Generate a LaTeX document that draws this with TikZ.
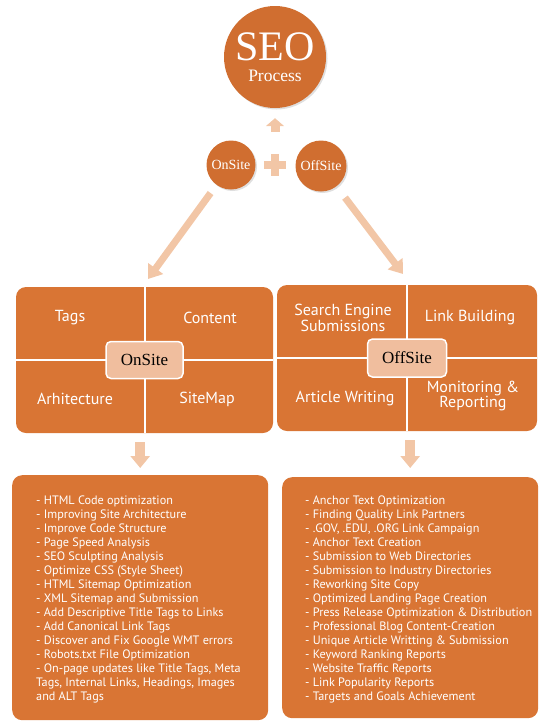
\documentclass[tikz,border=0pt]{standalone}
\usepackage{fontspec}
\setsansfont{PT Sans}
\newfontfamily\seoserif{Liberation Serif}
\usepackage{tikz}
\usetikzlibrary{arrows.meta,positioning,shadows}
\definecolor{seoorange}{RGB}{217,117,52}
\definecolor{seodark}{RGB}{208,110,48}
\definecolor{seopeach}{RGB}{242,198,166}
\definecolor{seobox}{RGB}{240,190,158}

\begin{document}
\begin{tikzpicture}[x=1pt,y=-1pt]
    \tikzstyle{ball}=[circle, fill=seodark, text=white, align=center, inner sep=0pt,
      drop shadow={shadow xshift=1.5pt, shadow yshift=-1.5pt, opacity=.25}]
    \tikzstyle{panel}=[rectangle, rounded corners=10pt, fill=seoorange]
    \tikzstyle{hub}=[rectangle, rounded corners=5pt, fill=seobox, draw=white, line width=1.5pt,
      font=\seoserif\fontsize{17}{17}\selectfont]
    \tikzstyle{quad}=[text=white, align=center, font=\sffamily\fontsize{16}{14}\selectfont]
    \tikzstyle{listbox}=[panel, anchor=north west, minimum width=256pt]
    \tikzstyle{items}=[anchor=north west, inner sep=0pt, align=left, text=white,
      font=\sffamily\fontsize{12.2}{14}\selectfont]
    \tikzstyle{fat}=[draw=seopeach, line width=7pt, -{Triangle[width=18pt,length=13pt]}]
    \tikzstyle{stub}=[draw=seopeach, line width=10pt, -{Triangle[width=19pt,length=12pt]}]
    \useasboundingbox (0,0) rectangle (549,728);

    % top: SEO process, fed by onsite + offsite
    \node[ball, minimum size=102pt, font=\seoserif\fontsize{42}{21}\selectfont] (seo) at (275,57)
      {SEO\\{\fontsize{17.5}{17}\selectfont Process}};
    \node[ball, minimum size=49pt, font=\seoserif\fontsize{14}{14}\selectfont] (on) at (231,165) {OnSite};
    \node[ball, minimum size=51pt, font=\seoserif\fontsize{14}{14}\selectfont] (off) at (321,166) {OffSite};
    \node[minimum size=22pt, inner sep=0pt] (plus) at (275,165) {};
    \draw[seopeach, line width=8pt] (plus.west) -- (plus.east);
    \draw[seopeach, line width=8pt] (plus.north) -- (plus.south);
    \draw[stub, line width=9pt, -{Triangle[width=18pt,length=8pt]}, shorten <=22pt, shorten >=10pt]
      (plus.north) -- (seo.south);

    % the two panels
    \node[panel, minimum width=257pt, minimum height=146pt] (onp) at (144.5,360) {};
    \node[panel, minimum width=260pt, minimum height=146pt] (offp) at (407,358) {};
    \draw[white, line width=2pt] (onp.north) -- (onp.south);
    \draw[white, line width=2pt] (onp.west) -- (onp.east);
    \draw[white, line width=2pt] (offp.north) -- (offp.south);
    \draw[white, line width=2pt] (offp.west) -- (offp.east);
    \node[hub, minimum width=77pt, minimum height=37pt] (onh) at (onp.center) {OnSite};
    \node[hub, minimum width=79pt, minimum height=38pt] (offh) at (offp.center) {OffSite};

    \node[quad] (tags) at (70,318) {Tags};
    \node[quad] (content) at (210,318) {Content};
    \node[quad] (arch) at (75,399) {Arhitecture};
    \node[quad] (smap) at (207,399) {SiteMap};
    \node[quad] (seng) at (343,318) {Search Engine\\Submissions};
    \node[quad] (lbuild) at (470,318) {Link Building};
    \node[quad] (artw) at (345,399) {Article Writing};
    \node[quad] (monit) at (473,396) {Monitoring \&\\Reporting};

    \coordinate (la) at (148,279);
    \coordinate (ra) at (403,274);
    \draw[fat, shorten <=10pt] (on) -- (la);
    \draw[fat, shorten <=14pt] (off) -- (ra);

    % lists
    \node[listbox, minimum height=245pt] (onl) at (12,475) {};
    \node[listbox, minimum height=241pt] (offl) at (282,477) {};
    \draw[stub, shorten <=9pt, shorten >=7pt] (onp.south -| onl.north) -- (onl.north);
    \draw[stub, shorten <=9pt, shorten >=9pt] (offp.south -| offl.north) -- (offl.north);

    \node[items] (onitems) at (36,496) {%
      - HTML Code optimization\\
      - Improving Site Architecture\\
      - Improve Code Structure\\
      - Page Speed Analysis\\
      - SEO Sculpting Analysis\\
      - Optimize CSS (Style Sheet)\\
      - HTML Sitemap Optimization\\
      - XML Sitemap and Submission\\
      - Add Descriptive Title Tags to Links\\
      - Add Canonical Link Tags\\
      - Discover and Fix Google WMT errors\\
      - Robots.txt File Optimization\\
      - On-page updates like Title Tags, Meta\\
      Tags, Internal Links, Headings, Images\\
      and ALT Tags};
    \node[items] (offitems) at (305,496) {%
      - Anchor Text Optimization\\
      - Finding Quality Link Partners\\
      - .GOV, .EDU, .ORG Link Campaign\\
      - Anchor Text Creation\\
      - Submission to Web Directories\\
      - Submission to Industry Directories\\
      - Reworking Site Copy\\
      - Optimized Landing Page Creation\\
      - Press Release Optimization \& Distribution\\
      - Professional Blog Content-Creation\\
      - Unique Article Writting \& Submission\\
      - Keyword Ranking Reports\\
      - Website Traffic Reports\\
      - Link Popularity Reports\\
      - Targets and Goals Achievement};
\end{tikzpicture}
\end{document}
